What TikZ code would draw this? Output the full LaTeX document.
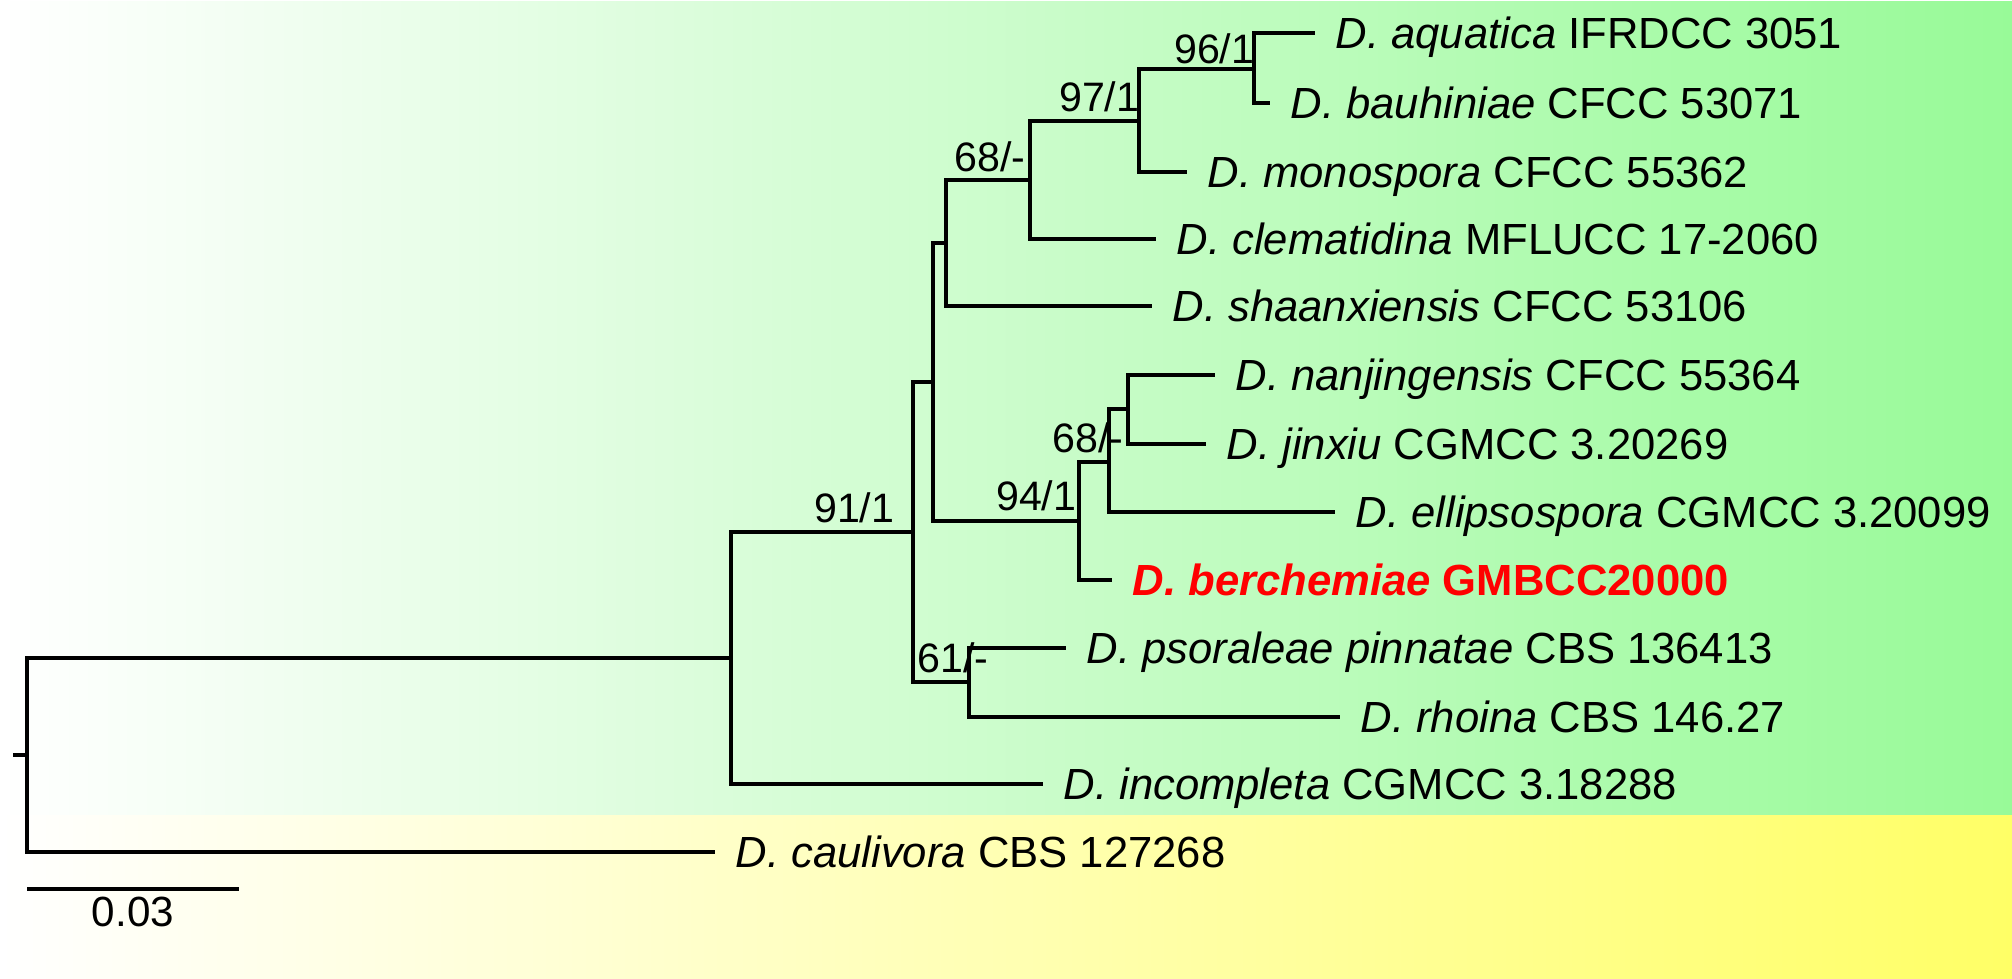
\documentclass[tikz,border=0pt]{standalone}
\usepackage{fontspec}
\setmainfont{Liberation Sans}
\usetikzlibrary{positioning}
\definecolor{cladegreen}{RGB}{152,250,152}
\definecolor{outgroupyellow}{RGB}{255,255,102}
\definecolor{newred}{RGB}{255,0,0}

\begin{document}
\begin{tikzpicture}[
        x=0.01cm, y=-0.01cm,
        branch/.style={draw=black, line width=0.9pt, line join=miter},
        taxon/.style={anchor=west, inner xsep=2mm, inner ysep=0pt, text height=8.8pt, text depth=0pt, font=\fontsize{12.4}{14}\selectfont},
        focal/.style={taxon, text=newred, font=\fontsize{12.4}{14}\selectfont\bfseries},
        support/.style={anchor=base east, inner sep=0pt, font=\fontsize{11.7}{13}\selectfont},
        barlabel/.style={inner sep=0pt, font=\fontsize{12}{14}\selectfont}
    ]
        \useasboundingbox (0,0) rectangle (2012,979);
        \fill[white] (0,0) rectangle (2012,979);
        \shade[left color=white, right color=cladegreen] (0,2) rectangle (2012,815);
        \shade[left color=white, right color=outgroupyellow] (0,815) rectangle (2012,979);

        \coordinate (stub) at (13,755);
        \coordinate (root) at (27,755);
        \coordinate (nE) at (731,658);
        \coordinate (n91) at (913,532);
        \coordinate (nB) at (933,382);
        \coordinate (nA) at (946,243);
        \coordinate (n68a) at (1030,180);
        \coordinate (n97) at (1139,121);
        \coordinate (n96) at (1254,69);
        \coordinate (n94) at (1079,521);
        \coordinate (n68b) at (1109,462);
        \coordinate (nNJ) at (1128,409);
        \coordinate (n61) at (969,682);

        \node[taxon] (aquatica) at (1315,33) {\textit{D. aquatica} IFRDCC 3051};
        \node[taxon] (bauhiniae) at (1270,103) {\textit{D. bauhiniae} CFCC 53071};
        \node[taxon] (monospora) at (1187,172) {\textit{D. monospora} CFCC 55362};
        \node[taxon] (clematidina) at (1156,239) {\textit{D. clematidina} MFLUCC 17-2060};
        \node[taxon] (shaanxiensis) at (1152,306) {\textit{D. shaanxiensis} CFCC 53106};
        \node[taxon] (nanjingensis) at (1215,375) {\textit{D. nanjingensis} CFCC 55364};
        \node[taxon] (jinxiu) at (1206,444) {\textit{D. jinxiu} CGMCC 3.20269};
        \node[taxon] (ellipsospora) at (1335,512) {\textit{D. ellipsospora} CGMCC 3.20099};
        \node[focal] (berchemiae) at (1112,580) {\textit{D. berchemiae} GMBCC20000};
        \node[taxon] (psoraleae) at (1066,648) {\textit{D. psoraleae pinnatae} CBS 136413};
        \node[taxon] (rhoina) at (1340,717) {\textit{D. rhoina} CBS 146.27};
        \node[taxon] (incompleta) at (1043,784) {\textit{D. incompleta} CGMCC 3.18288};
        \node[taxon] (caulivora) at (715,852) {\textit{D. caulivora} CBS 127268};

        \draw[branch] (stub) -- (root);
        \draw[branch] (root) |- (nE);
        \draw[branch] (root) |- (caulivora.west);
        \draw[branch] (nE) |- (n91);
        \draw[branch] (nE) |- (incompleta.west);
        \draw[branch] (n91) |- (nB);
        \draw[branch] (n91) |- (n61);
        \draw[branch] (nB) |- (nA);
        \draw[branch] (nB) |- (n94);
        \draw[branch] (nA) |- (n68a);
        \draw[branch] (nA) |- (shaanxiensis.west);
        \draw[branch] (n68a) |- (n97);
        \draw[branch] (n68a) |- (clematidina.west);
        \draw[branch] (n97) |- (n96);
        \draw[branch] (n97) |- (monospora.west);
        \draw[branch] (n96) |- (aquatica.west);
        \draw[branch] (n96) |- (bauhiniae.west);
        \draw[branch] (n94) |- (n68b);
        \draw[branch] (n94) |- (berchemiae.west);
        \draw[branch] (n68b) |- (nNJ);
        \draw[branch] (n68b) |- (ellipsospora.west);
        \draw[branch] (nNJ) |- (nanjingensis.west);
        \draw[branch] (nNJ) |- (jinxiu.west);
        \draw[branch] (n61) |- (psoraleae.west);
        \draw[branch] (n61) |- (rhoina.west);

        \node[support] (bs96) at (1255,64) {96/1};
        \node[support] (bs97) at (1140,112) {97/1};
        \node[support] (bs68a) at (1026,172) {68/-};
        \node[support] (bs68b) at (1124,452) {68/-};
        \node[support] (bs94) at (1077,510) {94/1};
        \node[support] (bs91) at (895,522) {91/1};
        \node[support] (bs61) at (989,672) {61/-};

        \coordinate (barL) at (27,889);
        \coordinate (barR) at (239,889);
        \coordinate (barmid) at (133,889);
        \draw[branch] (barL) -- (barR);
        \node[barlabel, below=0.75mm of barmid] (bartext) {0.03};
    \end{tikzpicture}
\end{document}
